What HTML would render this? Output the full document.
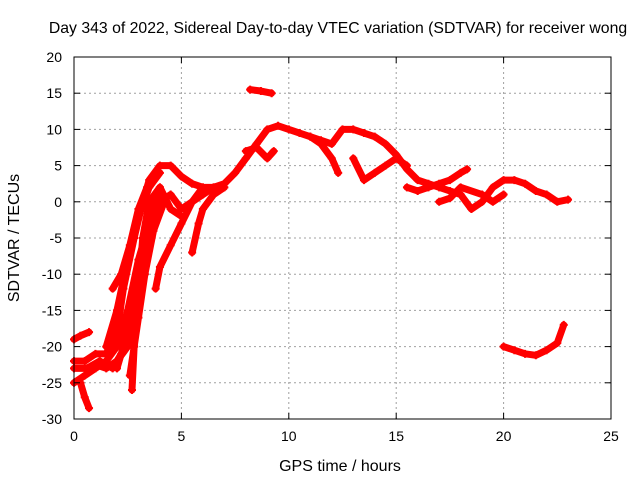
<!DOCTYPE html>
<html><head><meta charset="utf-8"><style>
body{margin:0;background:#fff}
svg text{font-family:"Liberation Sans",sans-serif;font-size:14px;fill:#000}
</style></head><body>
<svg id="c" width="640" height="480">
<text x="338" y="33" text-anchor="middle" style="font-size:15.8px">Day 343 of 2022, Sidereal Day-to-day VTEC variation (SDTVAR) for receiver wong</text>
<text x="340" y="471" text-anchor="middle" style="font-size:16px">GPS time / hours</text>
<text transform="translate(19,238) rotate(-90)" text-anchor="middle" style="font-size:16px">SDTVAR / TECUs</text>
<g id="grid"></g><g id="data"></g><g id="axes"></g>
</svg>
<script>
const xTicks=[0,5,10,15,20,25];
const yTicks=[20,15,10,5,0,-5,-10,-15,-20,-25,-30];
const trackA=[[0,-22],[0.5,-22],[1,-21],[1.5,-21],[2,-18],[2.3,-12],[2.8,-5],[3.2,0],[3.5,3],[4,5],[4.5,5],[5,3.5],[5.5,2.5],[6,2],[6.5,2],[7,2.5],[7.5,4],[8,6],[8.5,8],[9,10],[9.5,10.5],[10,10],[10.5,9.5],[11,9],[11.5,8.5],[12,8],[12.5,10],[13,10],[13.5,9.5],[14,9],[14.5,8],[15,6.5],[15.5,4.5],[16,3],[16.5,2.5],[17,2],[17.5,1.5],[18,1],[18.5,-1],[19,0],[19.5,2],[20,3],[20.5,3],[21,2.5],[21.5,1.5],[22,1],[22.5,0],[23,0.3]];
const trackB=[[0,-25],[0.5,-24],[1,-23],[1.5,-22],[2,-20],[2.5,-15],[3,-8],[3.5,-3],[4,0],[4.5,1],[5,-1],[5.5,0],[6,2],[6.5,1.5]];
const trackC=[[2.7,-26],[2.8,-20],[3,-12],[3.2,-5],[3.5,0],[4,2],[4.5,-1],[5,-2]];
const trackD=[[3.8,-12],[4,-9],[4.5,-6],[5,-3],[5.5,0],[6,1],[6.5,2]];
const trackE=[[5.5,-7],[5.8,-3],[6,-1],[6.5,1],[7,2]];
const trackF=[[0,-19],[0.3,-18.5],[0.7,-18]];
const trackG=[[0.3,-25],[0.5,-27],[0.7,-28.5]];
const trackH=[[8.2,15.5],[8.7,15.3],[9.2,15]];
const trackI=[[8,7],[8.5,7.5],[9,6],[9.3,7]];
const trackJ=[[11,9],[11.5,8],[12,6],[12.3,4]];
const trackK=[[13,6],[13.5,3],[14,4],[14.5,5],[15,6],[15.5,5]];
const trackL=[[15.5,2],[16,1.5],[16.5,2],[17,2.5],[17.5,3],[18,4],[18.3,4.5]];
const trackM=[[17,0],[17.5,0.5],[18,2],[19,1],[19.5,0],[20,1]];
const trackN=[[20,-20],[20.5,-20.5],[21,-21],[21.5,-21.2],[22,-20.5],[22.5,-19.5],[22.8,-17]];
const trackO=[[1,-22.5],[1.5,-23],[2,-22],[2.5,-20],[3,-14],[3.3,-7],[3.6,-1],[4,2]];
const trackP=[[1.5,-20],[2,-15],[2.5,-8],[3,-2],[3.5,2],[4,4]];
const trackQ=[[2,-23],[2.5,-18],[3,-10],[3.5,-4],[4,1]];
const trackR=[[2.6,-24],[3,-16],[3.3,-10],[3.7,-4],[4.2,0]];
const trackS=[[1.8,-12],[2.2,-10],[2.6,-6],[3,-1],[3.4,2]];
const trackT=[[0,-23],[0.6,-23],[1.2,-22],[1.8,-23],[2.2,-21]];
const tracks=[trackA,trackB,trackC,trackD,trackE,trackF,trackG,trackH,trackI,trackJ,trackK,trackL,trackM,trackN,trackO,trackP,trackQ,trackR,trackS,trackT];
const X0=74,X1=611,Y0=419,Y1=57;
const sx=t=>X0+(t-0)/25*(X1-X0);
const sy=v=>Y0-(v+30)/50*(Y0-Y1);
const NS="http://www.w3.org/2000/svg";
function mk(tag,attrs,parent){const e=document.createElementNS(NS,tag);for(const k in attrs)e.setAttribute(k,attrs[k]);parent.appendChild(e);return e;}
const grid=document.getElementById('grid'),axes=document.getElementById('axes'),data=document.getElementById('data');
xTicks.forEach(t=>{const x=sx(t);
 if(t>0&&t<25){const l=mk('line',{x1:x,x2:x,y1:Y1,y2:Y0,stroke:'#a0a0a0','stroke-dasharray':'2,3'},grid);
 
 }
 const tx=mk('text',{x:x,y:Y0+22,'text-anchor':'middle'},axes);tx.textContent=t;
 
 
 mk('line',{x1:x,x2:x,y1:Y0,y2:Y0-6,stroke:'#000'},axes);mk('line',{x1:x,x2:x,y1:Y1,y2:Y1+6,stroke:'#000'},axes);});
yTicks.forEach(v=>{const y=sy(v);
 if(v>-30&&v<20){const l=mk('line',{x1:X0,x2:X1,y1:y,y2:y,stroke:'#a0a0a0','stroke-dasharray':'2,3'},grid);
 
 }
 const tx=mk('text',{x:X0-12,y:y+5,'text-anchor':'end'},axes);tx.textContent=v;
 
 
 mk('line',{x1:X0,x2:X0+6,y1:y,y2:y,stroke:'#000'},axes);mk('line',{x1:X1,x2:X1-6,y1:y,y2:y,stroke:'#000'},axes);});
const fr=mk('rect',{x:X0,y:Y1,width:X1-X0,height:Y0-Y1,fill:'none',stroke:'#000'},axes);


tracks.forEach((tr,i)=>{
 const p=mk('polyline',{points:tr.map(d=>sx(d[0])+','+sy(d[1])).join(' '),fill:'none',stroke:'#f00','stroke-width':7,'stroke-linejoin':'round','stroke-linecap':'round'},data);
 
 
 tr.forEach(d=>{const x=sx(d[0]),y=sy(d[1]);
  const m=mk('path',{d:`M${x-4},${y}H${x+4}M${x},${y-4}V${y+4}`,stroke:'#f00','stroke-width':2},data);
  
  });
});
</script>
</body></html>
